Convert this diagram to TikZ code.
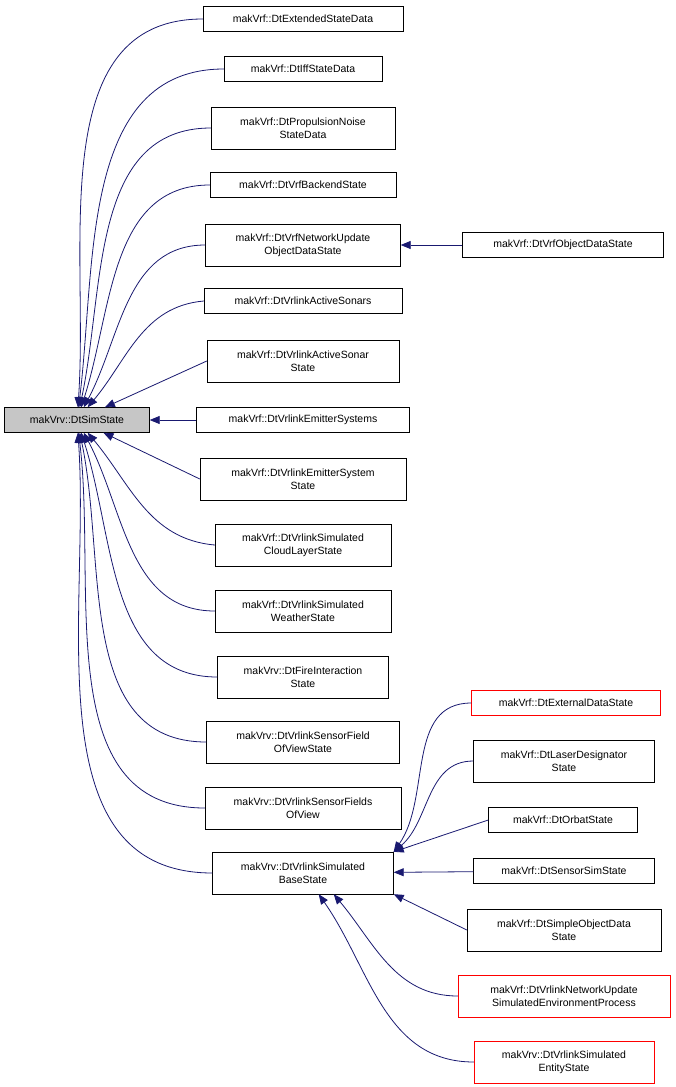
\documentclass[tikz,border=0pt]{standalone}
\usepackage{fontspec}
\setmainfont{Liberation Sans}
\usetikzlibrary{arrows.meta}
\definecolor{edgeblue}{HTML}{191970}
\tikzset{
  cls/.style={draw, fill=white, align=center, inner sep=2pt, minimum height=25pt,
    font=\fontsize{10.5}{13}\selectfont},
  tall/.style={cls, minimum height=42pt},
  redcls/.style={draw=red},
  inherit/.style={draw=edgeblue, line width=0.8pt, -{Triangle[length=10pt,width=8pt]}}
}
\begin{document}
\begin{tikzpicture}[x=1pt, y=-1pt]
	\useasboundingbox (0,0) rectangle (675,1087);
	% base class
	\node[cls, fill=gray!45, minimum width=145pt] (sim) at (77,420) {makVrv::DtSimState};
	% direct subclasses
	\node[cls, minimum width=200pt] (ext) at (303,19) {makVrf::DtExtendedStateData};
	\node[cls, minimum width=158pt] (iff) at (303,69) {makVrf::DtIffStateData};
	\node[tall, minimum width=184pt] (prop) at (303,128) {makVrf::DtPropulsionNoise\\StateData};
	\node[cls, minimum width=186pt] (backend) at (303,185) {makVrf::DtVrfBackendState};
	\node[tall, minimum width=195pt] (netupd) at (303,245) {makVrf::DtVrfNetworkUpdate\\ObjectDataState};
	\node[cls, minimum width=198pt] (sonars) at (303,301) {makVrf::DtVrlinkActiveSonars};
	\node[tall, minimum width=192pt] (sonar) at (303,361) {makVrf::DtVrlinkActiveSonar\\State};
	\node[cls, minimum width=213pt] (emits) at (303,420) {makVrf::DtVrlinkEmitterSystems};
	\node[tall, minimum width=206pt] (emit) at (303,479) {makVrf::DtVrlinkEmitterSystem\\State};
	\node[tall, minimum width=176pt] (cloud) at (303,545) {makVrf::DtVrlinkSimulated\\CloudLayerState};
	\node[tall, minimum width=176pt] (weather) at (303,611) {makVrf::DtVrlinkSimulated\\WeatherState};
	\node[tall, minimum width=171pt] (fire) at (303,677) {makVrv::DtFireInteraction\\State};
	\node[tall, minimum width=193pt] (field) at (303,742) {makVrv::DtVrlinkSensorField\\OfViewState};
	\node[tall, minimum width=196pt] (fields) at (303,808) {makVrv::DtVrlinkSensorFields\\OfView};
	\node[tall, minimum width=181pt] (base) at (303,873) {makVrv::DtVrlinkSimulated\\BaseState};
	% second level
	\node[cls, minimum width=201pt] (objdata) at (563,245) {makVrf::DtVrfObjectDataState};
	\node[cls, redcls, minimum width=189pt] (extdata) at (566,703) {makVrf::DtExternalDataState};
	\node[tall, minimum width=181pt] (laser) at (564,761) {makVrf::DtLaserDesignator\\State};
	\node[cls, minimum width=149pt] (orbat) at (563,820) {makVrf::DtOrbatState};
	\node[cls, minimum width=181pt] (sensor) at (564,871) {makVrf::DtSensorSimState};
	\node[tall, minimum width=194pt] (simple) at (564,930) {makVrf::DtSimpleObjectData\\State};
	\node[tall, redcls, minimum width=212pt] (envproc) at (564,996) {makVrf::DtVrlinkNetworkUpdate\\SimulatedEnvironmentProcess};
	\node[tall, redcls, minimum width=180pt] (entity) at (564,1062) {makVrv::DtVrlinkSimulated\\EntityState};
	% inheritance edges
	\draw[inherit] (ext.west) to[out=180, in=86] (sim);
	\draw[inherit] (iff.west) to[out=180, in=83] (sim);
	\draw[inherit] (prop.west) to[out=180, in=78] (sim);
	\draw[inherit] (backend.west) to[out=180, in=72] (sim);
	\draw[inherit] (netupd.west) to[out=180, in=62] (sim);
	\draw[inherit] (sonars.west) to[out=185, in=50] (sim);
	\draw[inherit] (sonar.west) to (sim);
	\draw[inherit] (emits) -- (sim);
	\draw[inherit] (emit.west) to (sim);
	\draw[inherit] (cloud.west) to[out=175, in=-50] (sim);
	\draw[inherit] (weather.west) to[out=180, in=-62] (sim);
	\draw[inherit] (fire.west) to[out=180, in=-72] (sim);
	\draw[inherit] (field.west) to[out=180, in=-78] (sim);
	\draw[inherit] (fields.west) to[out=180, in=-83] (sim);
	\draw[inherit] (base.west) to[out=180, in=-86] (sim);
	\draw[inherit] (objdata) -- (netupd);
	\draw[inherit] (extdata.west) to[out=180, in=55] (base.north east);
	\draw[inherit] (laser.west) to[out=180, in=40] (base.north east);
	\draw[inherit] (orbat.west) -- (base.north east);
	\draw[inherit] (sensor) -- (base);
	\draw[inherit] (simple.west) -- (base.south east);
	\draw[inherit] (envproc.west) to[out=180, in=-50] ([xshift=-60pt]base.south east);
	\draw[inherit] (entity.west) to[out=180, in=-55] ([xshift=-75pt]base.south east);
\end{tikzpicture}
\end{document}
